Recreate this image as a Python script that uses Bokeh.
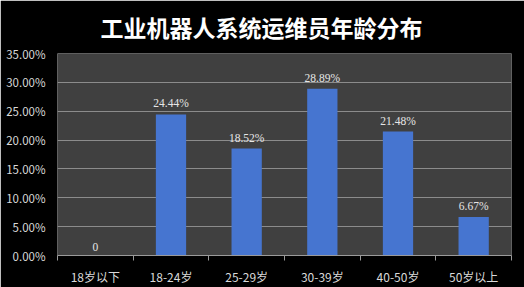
from bokeh.plotting import figure
from bokeh.models import FixedTicker, NumeralTickFormatter, ColumnDataSource, Range1d, LabelSet
from bokeh.embed import file_html
from bokeh.resources import INLINE

categories = ["18岁以下", "18-24岁", "25-29岁", "30-39岁", "40-50岁", "50岁以上"]
values = [0.0, 0.2444, 0.1852, 0.2889, 0.2148, 0.0667]
value_labels = ["0", "24.44%", "18.52%", "28.89%", "21.48%", "6.67%"]
y_ticks = [0.0, 0.05, 0.10, 0.15, 0.20, 0.25, 0.30, 0.35]

FONT = "Noto Sans CJK SC"

xs = [i + 0.5 for i in range(len(categories))]
src = ColumnDataSource(dict(x=xs, top=values, lab=value_labels))

p = figure(width=524, height=287, output_backend="svg", toolbar_location=None,
           x_range=Range1d(0, len(categories)), y_range=Range1d(0, 0.35),
           min_border_left=57, min_border_right=13, min_border_bottom=31, min_border_top=53)

p.background_fill_color = "#404040"
p.border_fill_color = "#000000"
p.outline_line_color = None

p.title.text = "工业机器人系统运维员年龄分布"
p.title.text_font = FONT
p.title.text_font_size = "23px"
p.title.text_font_style = "bold"
p.title.text_color = "#ffffff"
p.title.align = "left"
p.title.vertical_align = "top"
p.title.offset = 43
p.title.standoff = 16

p.vbar(x="x", top="top", width=0.4, source=src, fill_color="#4675d0", line_color=None)

labels = LabelSet(x="x", y="top", text="lab", source=src, text_align="center",
                  text_baseline="bottom", y_offset=5, text_color="#e6e6e6",
                  text_font_size="11.5px", text_font=FONT)
p.add_layout(labels)

# y axis
p.yaxis.ticker = FixedTicker(ticks=y_ticks)
p.yaxis.formatter = NumeralTickFormatter(format="0.00%")
p.yaxis.axis_line_color = None
p.yaxis.major_tick_line_color = None
p.yaxis.minor_tick_line_color = None
p.yaxis.major_label_text_color = "#d9d9d9"
p.yaxis.major_label_text_font = FONT
p.yaxis.major_label_text_font_size = "11.5px"
p.yaxis.major_label_standoff = 6

# x axis
p.xaxis.ticker = FixedTicker(ticks=xs, minor_ticks=list(range(len(categories) + 1)))
p.xaxis.major_label_overrides = {x: c for x, c in zip(xs, categories)}
p.xaxis.axis_line_color = "#9a9a9a"
p.xaxis.major_tick_line_color = None
p.xaxis.minor_tick_line_color = "#9a9a9a"
p.xaxis.minor_tick_out = 5
p.xaxis.minor_tick_in = 0
p.xaxis.major_label_text_color = "#d9d9d9"
p.xaxis.major_label_text_font = FONT
p.xaxis.major_label_text_font_size = "12px"
p.xaxis.major_label_standoff = 6

p.xgrid.grid_line_color = None
p.ygrid.ticker = FixedTicker(ticks=y_ticks)
p.ygrid.grid_line_color = "#8c8c8c"
p.ygrid.grid_line_width = 1

open("out.html", "w").write(file_html(p, INLINE))
